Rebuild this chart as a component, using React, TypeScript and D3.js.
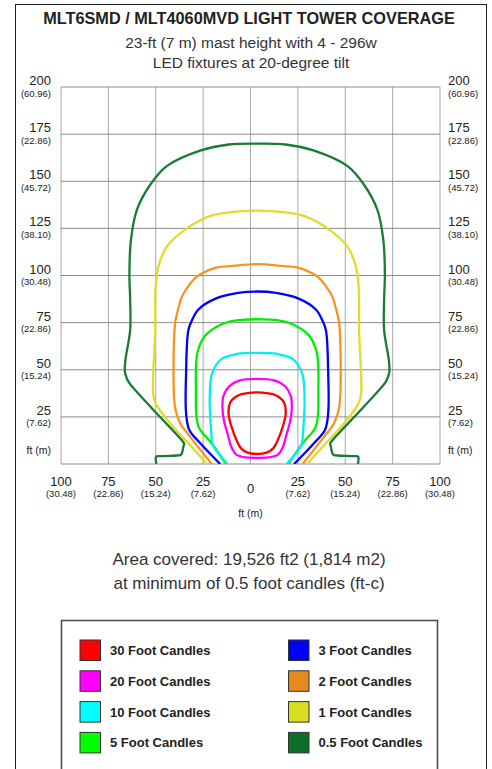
import * as d3 from 'd3';

// foot-candle contours, each as [y ft, half width ft] from the top of the pattern down
const CENTER_FT = 3.5;

const fc30: [number, number][] = [
  [38, 0], [37.6, 5], [36.5, 9.8], [33, 14], [27, 15.1], [20, 13.6],
  [12.5, 10.8], [8.3, 8.5], [6, 5], [5.3, 0],
];
const fc20: [number, number][] = [
  [45.2, 0], [44.4, 9], [41, 15], [36, 17.8], [30, 18.3], [23, 17.5],
  [15, 15.3], [9, 13.6], [5, 11], [3.5, 6], [3.3, 0],
];
const fc10: [number, number][] = [
  [59, 0], [58.5, 10], [55.5, 19], [48, 23.8], [36, 25], [18, 24.3],
  [10, 23.3], [5, 20], [0, 15.5],
];
const fc5: [number, number][] = [
  [76.8, 0], [76, 12], [73, 21], [68, 27.5], [59, 31.5], [40, 32.3],
  [20, 31], [11, 24], [0, 16.5],
];
const fc3: [number, number][] = [
  [91.5, 0], [90.8, 10], [88, 21.3], [82, 31], [76, 34.5], [71, 36.3],
  [48, 37.5], [27, 37.5], [18, 35.8], [11, 30], [0, 19.5],
];
const fc2: [number, number][] = [
  [106, 0], [105, 14], [104.3, 21], [99.4, 31.8], [94, 36.5], [88.8, 39.7],
  [80, 42.2], [74.6, 43.3], [30, 43.3], [21.6, 40.6], [14.5, 35.4], [0, 24],
];
const fc1: [number, number][] = [
  [134.4, 0], [133.5, 15], [131.5, 25], [125, 37.1], [115.3, 47.7], [104.7, 52.1],
  [95, 53.5], [87, 53.8], [71, 53.8], [41, 55], [35, 54.5], [31, 52.9],
  [21.6, 45.9], [10.1, 35.4], [0, 26.5],
];
const fc05: [number, number][] = [
  [170, 0], [169.5, 15], [166.2, 30.1], [158, 47.7], [148, 56.5], [134.7, 63.5],
  [118.8, 66.6], [101, 67.4], [87, 67], [71, 67], [55.2, 69.5], [49, 69.8],
  [45.5, 68.8], [43, 67.5], [28.6, 54.7], [11, 38.6], [10.3, 38.6], [9.6, 38.8],
  [5.2, 39.9], [4.7, 40.6], [4.5, 42.5], [4.2, 51.5], [4, 53.2], [3.4, 53.5], [0, 53.2],
];

const contours = [
  { label: '0.5 Foot Candles', color: '#1b7a34', swatch: '#0d6e26', profile: fc05, closed: false },
  { label: '1 Foot Candles', color: '#dddd2a', swatch: '#d7df23', profile: fc1, closed: false },
  { label: '2 Foot Candles', color: '#f7941e', swatch: '#e8891f', profile: fc2, closed: false },
  { label: '3 Foot Candles', color: '#0000ff', swatch: '#0000ff', profile: fc3, closed: false },
  { label: '5 Foot Candles', color: '#00ee00', swatch: '#00ff00', profile: fc5, closed: false },
  { label: '10 Foot Candles', color: '#00f0f0', swatch: '#00ffff', profile: fc10, closed: false },
  { label: '20 Foot Candles', color: '#ff00ff', swatch: '#ff00ff', profile: fc20, closed: true },
  { label: '30 Foot Candles', color: '#ff0000', swatch: '#ff0000', profile: fc30, closed: true },
];

const legendLeft = ['30 Foot Candles', '20 Foot Candles', '10 Foot Candles', '5 Foot Candles'];
const legendRight = ['3 Foot Candles', '2 Foot Candles', '1 Foot Candles', '0.5 Foot Candles'];

const xTicks = [-100, -75, -50, -25, 0, 25, 50, 75, 100];
const xMeters = ['(30.48)', '(22.86)', '(15.24)', '(7.62)', '', '(7.62)', '(15.24)', '(22.86)', '(30.48)'];
const yTicks = [200, 175, 150, 125, 100, 75, 50, 25];
const yMeters = ['(60.96)', '(22.86)', '(45.72)', '(38.10)', '(30.48)', '(22.86)', '(15.24)', '(7.62)'];

const FONT = '"Liberation Sans", Arial, Helvetica, sans-serif';

function contourPoints(profile: [number, number][], closed: boolean): [number, number][] {
  const left = [...profile].reverse().map(([y, hw]) => [CENTER_FT - hw, y] as [number, number]);
  const rest = closed ? profile.slice(1, -1) : profile.slice(1);
  const right = rest.map(([y, hw]) => [CENTER_FT + hw, y] as [number, number]);
  return [...left, ...right];
}

export default function App() {
  const x = d3.scaleLinear().domain([-100, 100]).range([61, 440]);
  const y = d3.scaleLinear().domain([0, 200]).range([464, 87]);

  const openLine = d3
    .line<[number, number]>()
    .x((d) => x(d[0]))
    .y((d) => y(d[1]))
    .curve(d3.curveCatmullRom.alpha(0.5));
  const closedLine = d3
    .line<[number, number]>()
    .x((d) => x(d[0]))
    .y((d) => y(d[1]))
    .curve(d3.curveCatmullRomClosed.alpha(0.5));

  const colorOf = (label: string) => contours.find((c) => c.label === label)!.swatch;

  return (
    <svg
      width={492}
      height={769}
      style={{ position: 'absolute', left: 0, top: 0, background: '#fff' }}
      fontFamily={FONT}
    >
      <defs>
        <clipPath id="plot">
          <rect x={x(-100)} y={y(200)} width={x(100) - x(-100)} height={y(0) - y(200)} />
        </clipPath>
      </defs>

      {/* outer frame */}
      <rect x={15.5} y={4.5} width={471} height={800} fill="none" stroke="#222" />

      {/* titles */}
      <text x={249} y={24} textAnchor="middle" fontSize={16.3} fontWeight="bold" fill="#222">
        MLT6SMD / MLT4060MVD LIGHT TOWER COVERAGE
      </text>
      <text x={251} y={48} textAnchor="middle" fontSize={15.5} fill="#333">
        23-ft (7 m) mast height with 4 - 296w
      </text>
      <text x={251} y={68} textAnchor="middle" fontSize={15.5} fill="#333">
        LED fixtures at 20-degree tilt
      </text>

      {/* grid */}
      <g stroke="#8c8c8c" strokeWidth={1}>
        {xTicks.map((t) => (
          <line key={`v${t}`} x1={x(t)} x2={x(t)} y1={y(0)} y2={y(200)} stroke="#a8a8a8" />
        ))}
        {[0, ...yTicks].map((t) => (
          <line key={`h${t}`} x1={x(-100)} x2={x(100)} y1={y(t)} y2={y(t)} />
        ))}
      </g>

      {/* contours */}
      <g clipPath="url(#plot)" fill="none" strokeWidth={2.3} strokeLinejoin="round">
        {contours.map((c) => {
          const pts = contourPoints(c.profile, c.closed);
          return (
            <path
              key={c.label}
              d={(c.closed ? closedLine(pts) : openLine(pts)) ?? ''}
              stroke={c.color}
            />
          );
        })}
      </g>

      {/* y axis labels, both sides */}
      <g fill="#222">
        {yTicks.map((t, i) => (
          <g key={`yl${t}`}>
            <text x={51} y={y(t) - 2} textAnchor="end" fontSize={13}>{t}</text>
            <text x={51} y={y(t) + 9.5} textAnchor="end" fontSize={9.5}>{yMeters[i]}</text>
            <text x={448} y={y(t) - 2} fontSize={13}>{t}</text>
            <text x={448} y={y(t) + 9.5} fontSize={9.5}>{yMeters[i]}</text>
          </g>
        ))}
        <text x={51} y={y(0) - 10} textAnchor="end" fontSize={10.5}>ft (m)</text>
        <text x={448} y={y(0) - 10} fontSize={10.5}>ft (m)</text>
      </g>

      {/* x axis labels */}
      <g fill="#222" textAnchor="middle">
        {xTicks.map((t, i) =>
          t === 0 ? (
            <text key={`xl${t}`} x={x(t)} y={y(0) + 29} fontSize={13}>0</text>
          ) : (
            <g key={`xl${t}`}>
              <text x={x(t)} y={y(0) + 22} fontSize={13}>{Math.abs(t)}</text>
              <text x={x(t)} y={y(0) + 33} fontSize={9.5}>{xMeters[i]}</text>
            </g>
          )
        )}
        <text x={x(0)} y={y(0) + 53} fontSize={10.5}>ft (m)</text>
      </g>

      {/* coverage note */}
      <text x={249} y={565} textAnchor="middle" fontSize={17} fill="#333">
        Area covered: 19,526 ft2 (1,814 m2)
      </text>
      <text x={249} y={589} textAnchor="middle" fontSize={17} fill="#333">
        at minimum of 0.5 foot candles (ft-c)
      </text>

      {/* legend */}
      <rect x={61.5} y={620.5} width={376} height={200} fill="none" stroke="#444" strokeWidth={1.5} />
      {[legendLeft, legendRight].map((col, ci) =>
        col.map((label, ri) => {
          const sx = ci === 0 ? 80 : 288.5;
          const sy = 640 + ri * 30.8;
          return (
            <g key={label}>
              <rect x={sx} y={sy} width={20.5} height={20.5} fill={colorOf(label)} stroke="#333" strokeWidth={1} />
              <text x={sx + 30} y={sy + 15} fontSize={13} fontWeight="bold" fill="#222">
                {label}
              </text>
            </g>
          );
        })
      )}
    </svg>
  );
}
